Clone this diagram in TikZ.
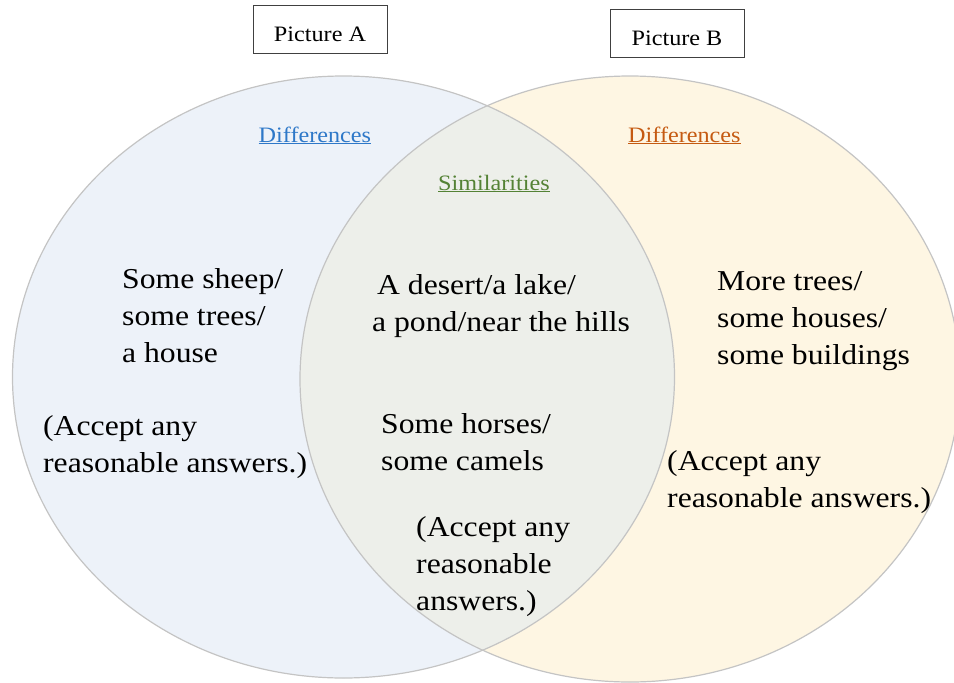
\documentclass[tikz,border=0pt]{standalone}
\usepackage{fontspec}
\setmainfont{Liberation Serif}[FakeStretch=1.1]
\definecolor{leftfill}{HTML}{EDF2F9}
\definecolor{rightfill}{HTML}{FEF6E3}
\definecolor{midfill}{HTML}{EDEFEA}
\definecolor{rim}{HTML}{C4C4C4}
\definecolor{hdblue}{HTML}{2E78C8}
\definecolor{hdorange}{HTML}{C55A11}
\definecolor{hdgreen}{HTML}{548235}
\definecolor{boxline}{HTML}{404040}
\begin{document}
\begin{tikzpicture}[x=1pt,y=-1pt,
  bodytext/.style={anchor=base west,inner sep=0pt,align=left,
    font=\fontsize{28.8}{37}\selectfont},
  headtext/.style={anchor=base west,inner sep=0pt,
    font=\fontsize{22}{26}\selectfont},
  picbox/.style={draw=boxline,line width=1pt,minimum width=134pt,
    minimum height=48pt,inner sep=0pt,text height=24pt,text depth=0pt,
    font=\fontsize{22}{26}\selectfont},
  rimline/.style={draw=rim,line width=1.2pt}]
\useasboundingbox (0,0) rectangle (954,683);
\clip (0,0) rectangle (954,683);
% circles
\fill[leftfill] (343.5,377) ellipse [x radius=331, y radius=301];
\fill[rightfill] (630,379) ellipse [x radius=330, y radius=303];
\begin{scope}
  \clip (343.5,377) ellipse [x radius=331, y radius=301];
  \fill[midfill] (630,379) ellipse [x radius=330, y radius=303];
\end{scope}
\draw[rimline] (343.5,377) ellipse [x radius=331, y radius=301];
\draw[rimline] (630,379) ellipse [x radius=330, y radius=303];
% title boxes
\node[picbox] (pa) at (320,29) {Picture A};
\node[picbox] (pb) at (677,33) {Picture B};
% headers
\node[headtext,text=hdblue] (hda) at (258.5,142) {\underline{Differences}};
\node[headtext,text=hdorange] (hdb) at (628,142) {\underline{Differences}};
\node[headtext,text=hdgreen] (hds) at (438,190) {\underline{Similarities}};
% left (anchor = baseline of the last line)
\node[bodytext] (l1) at (122,362) {Some sheep/\\some trees/\\a house};
\node[bodytext] (l2) at (43,472) {(Accept any\\reasonable answers.)};
% middle
\node[bodytext] (m1) at (372,331) {\hspace{5pt}A desert/a lake/\\a pond/near the hills};
\node[bodytext] (m2) at (381,470) {Some horses/\\some camels};
\node[bodytext] (m3) at (416,610) {(Accept any\\reasonable\\answers.)};
% right
\node[bodytext] (r1) at (717,364) {More trees/\\some houses/\\some buildings};
\node[bodytext] (r2) at (667,507) {(Accept any\\reasonable answers.)};
\end{tikzpicture}
\end{document}
